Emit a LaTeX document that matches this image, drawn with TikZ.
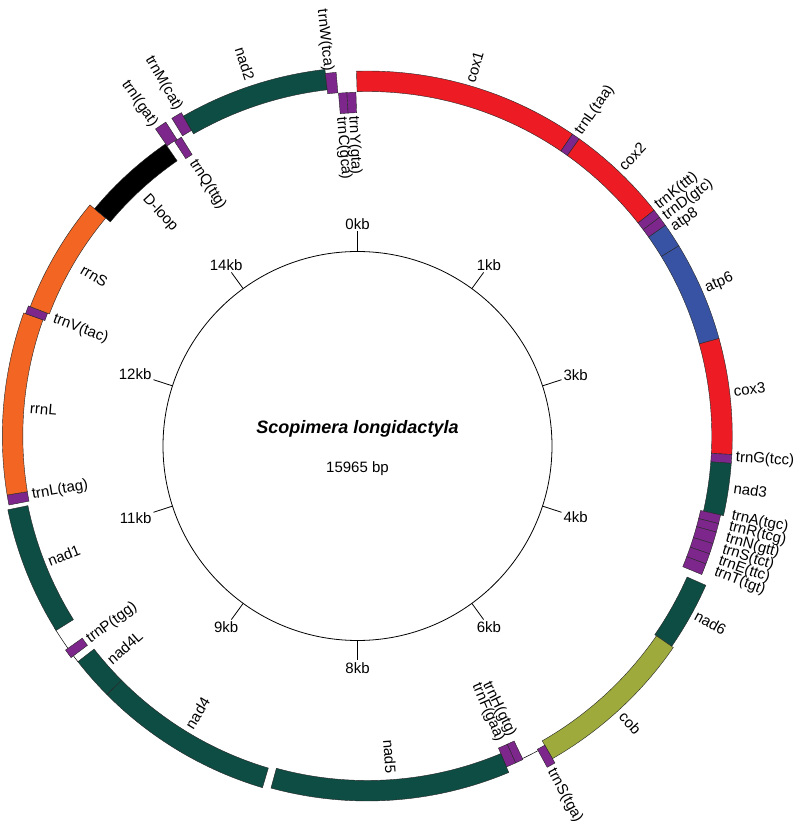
\documentclass[tikz,border=0pt]{standalone}
\usepackage{fontspec}
\setmainfont{Liberation Sans}
\usetikzlibrary{calc}
\definecolor{gred}{RGB}{237,28,36}
\definecolor{gpur}{RGB}{125,38,140}
\definecolor{ggrn}{RGB}{14,77,68}
\definecolor{gblu}{RGB}{57,83,164}
\definecolor{gora}{RGB}{242,101,34}
\definecolor{golv}{RGB}{158,171,60}
\newcommand\gseg[4]{%
  \filldraw[seg, fill=#1] ({90-(#2)}:{365+(#4)}) arc[start angle={90-(#2)}, end angle={90-(#3)}, radius={365+(#4)}]
    -- ({90-(#3)}:{344.5+(#4)}) arc[start angle={90-(#3)}, end angle={90-(#2)}, radius={344.5+(#4)}] -- cycle;}
\newcommand\labR[5]{\node[lab,anchor=#4,rotate={90-(#2)}] (#1) at ({90-(#2)}:#3) {#5};}
\newcommand\labL[5]{\node[lab,anchor=#4,rotate={270-(#2)}] (#1) at ({90-(#2)}:#3) {#5};}
\begin{document}
\begin{tikzpicture}[x=1pt,y=1pt,
  lab/.style={inner sep=0pt, font=\fontsize{15}{17}\selectfont},
  seg/.style={draw=black!85, line width=0.4pt},
  tickline/.style={line width=0.8pt, draw=black}]
\useasboundingbox (0,0) rectangle (800,828);
\fill[white] (0,0) rectangle (800,828);
\coordinate (O) at (367.3,392);
\coordinate (I) at (357.5,382);
% gene ring
\begin{scope}[shift={(O)}]
  \draw[line width=0.5pt] ({90-232}:367) arc[start angle={90-232}, end angle={90-238.5}, radius=367];
  \draw[line width=0.5pt] ({90-151}:358) arc[start angle={90-151}, end angle={90-154.6}, radius=358];
  \gseg{gred}{-1.7}{34.2}{0}
  \gseg{gpur}{34.2}{35.5}{0}
  \gseg{gred}{35.5}{51.8}{0}
  \gseg{gpur}{51.8}{53.2}{0}
  \gseg{gpur}{53.2}{54.75}{0}
  \gseg{gblu}{54.75}{58.6}{0}
  \gseg{gblu}{58.6}{74.5}{0}
  \gseg{gred}{74.5}{92.9}{0}
  \gseg{gpur}{92.9}{94.3}{0}
  \gseg{ggrn}{94.3}{102.6}{0}
  \gseg{gpur}{102.6}{104.0}{-3}
  \gseg{gpur}{104.0}{105.4}{-3}
  \gseg{gpur}{105.4}{107.3}{-3}
  \gseg{gpur}{107.3}{109.0}{-3}
  \gseg{gpur}{109.0}{110.7}{-3}
  \gseg{gpur}{110.7}{112.5}{-3}
  \gseg{ggrn}{113.8}{124.65}{5}
  \gseg{golv}{124.65}{150.15}{7}
  \gseg{gpur}{150.15}{151.5}{12}
  \gseg{gpur}{154.3}{155.6}{-6}
  \gseg{gpur}{155.6}{157.2}{-6}
  \gseg{ggrn}{157.2}{195.3}{0}
  \gseg{ggrn}{196.6}{225.2}{2}
  \gseg{ggrn}{225.2}{232.05}{2}
  \gseg{gpur}{233.2}{234.65}{5}
  \gseg{ggrn}{238.0}{258.4}{2}
  \gseg{gpur}{259.1}{260.7}{0}
  \gseg{gora}{260.7}{289.7}{0}
  \gseg{gpur}{289.7}{291.0}{-2}
  \gseg{gora}{291.0}{309.8}{-4}
  \gseg{black}{309.8}{325.35}{-10}
  \gseg{gpur}{325.4}{327.3}{8}
  \gseg{gpur}{326.8}{328.1}{-13}
  \gseg{gpur}{328.4}{330.1}{8}
  \gseg{ggrn}{330.1}{353.4}{4}
  \gseg{gpur}{353.4}{355.1}{0}
  \gseg{gpur}{355.2}{356.6}{-21}
  \gseg{gpur}{356.6}{358.1}{-21}
  % labels: right half, outside
  \labR{lcox1}{16.25}{368}{west}{cox1}
  \labR{ltrnLa}{34.9}{369}{west}{trnL(taa)}
  \labR{lcox2}{43.5}{369}{west}{cox2}
  \labR{ltrnK}{51.6}{369}{west}{trnK(ttt)}
  \labR{ltrnD}{53.6}{369}{west}{trnD(gtc)}
  \labR{latp8}{55.8}{369}{west}{atp8}
  \labR{latp6}{66.5}{369}{west}{atp6}
  \labR{lcox3}{83.1}{369}{west}{cox3}
  \labR{ltrnG}{93.4}{369}{west}{trnG(tcc)}
  \labR{lnad3}{98.1}{370}{west}{nad3}
  \labR{ltrnA}{102.3}{373}{west}{trnA(tgc)}
  \labR{ltrnR}{104.1}{373}{west}{trnR(tcg)}
  \labR{ltrnN}{105.9}{373}{west}{trnN(gtt)}
  \labR{ltrnSa}{107.7}{373}{west}{trnS(tct)}
  \labR{ltrnE}{109.5}{373}{west}{trnE(ttc)}
  \labR{ltrnT}{111.3}{373}{west}{trnT(tgt)}
  \labR{lnad6}{118.6}{374}{west}{nad6}
  \labR{lcob}{137.5}{377}{west}{cob}
  \labR{ltrnSb}{151.2}{381}{west}{trnS(tga)}
  % right half, inside
  \labR{ltrnH}{154.2}{333}{east}{trnH(gtg)}
  \labR{ltrnF}{156.4}{333}{east}{trnF(gaa)}
  \labR{lnad5}{176.0}{338}{east}{nad5}
  % left half, inside
  \labL{lnad4}{211.5}{342}{west}{nad4}
  \labL{lnad4L}{228.9}{343}{west}{nad4L}
  \labL{ltrnP}{233.8}{346}{west}{trnP(tgg)}
  \labL{lnad1}{248.5}{343}{west}{nad1}
  \labL{ltrnLb}{260.0}{340.5}{west}{trnL(tag)}
  \labL{lrrnL}{274.7}{338.5}{west}{rrnL}
  \labL{ltrnV}{290.5}{335}{west}{trnV(tac)}
  \labL{lrrnS}{300.4}{331}{west}{rrnS}
  \labL{lDloop}{317.1}{326.5}{west}{D-loop}
  \labL{ltrnQ}{327.6}{326}{west}{trnQ(ttg)}
  \labL{ltrnC}{355.3}{320}{west}{trnC(gca)}
  \labL{ltrnY}{357.5}{320}{west}{trnY(gta)}
  % left half, outside
  \labL{ltrnI}{325.6}{376.5}{east}{trnI(gat)}
  \labL{ltrnM}{330.0}{377}{east}{trnM(cat)}
  \labL{lnad2}{341.8}{375}{east}{nad2}
  \labL{ltrnW}{353.9}{367}{east}{trnW(tca)}
\end{scope}
% inner scale circle
\node[circle, draw, line width=0.8pt, minimum size=389pt, inner sep=0pt] (inner) at (I) {};
\begin{scope}[shift={(I)}]
  \foreach \k/\t in {0/0kb,1/1kb,2/3kb,3/4kb,4/6kb,5/8kb,6/9kb,7/11kb,8/12kb,9/14kb} {
    \pgfmathtruncatemacro\an{mod(270-36*\k+720,360)}
    \draw[tickline] ({90-36*\k}:194.5) -- ({90-36*\k}:214.5) coordinate (te\k);
    \node[lab, anchor=\an] (tl\k) at ({90-36*\k}:216.5) {\t};
  }
\end{scope}
\node[inner sep=0pt, font=\bfseries\itshape\fontsize{18}{20}\selectfont] (title) at (357.5,399) {Scopimera longidactyla};
\node[lab] (bp) at (357.5,359.3) {15965 bp};
\end{tikzpicture}
\end{document}
